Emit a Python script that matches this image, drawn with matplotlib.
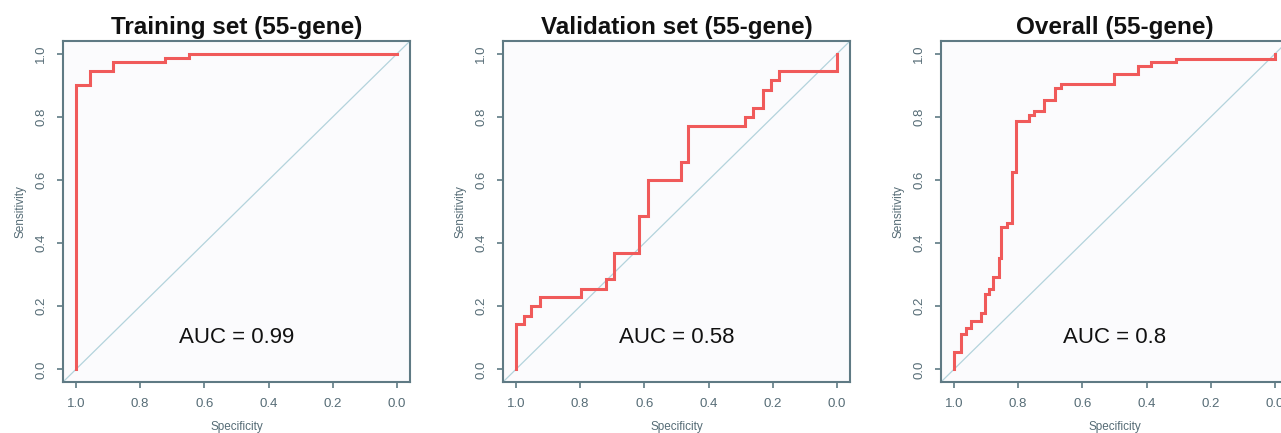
import matplotlib
matplotlib.use("Agg")
import matplotlib.pyplot as plt

plt.rcParams['font.family'] = ['Liberation Sans', 'DejaVu Sans']

titles = ["Training set (55-gene)", "Validation set (55-gene)", "Overall (55-gene)"]
auc_labels = ["AUC = 0.99", "AUC = 0.58", "AUC = 0.8"]

train_spec = [1.0, 1.0, 0.956, 0.885, 0.721, 0.647, 0.0]
train_sens = [0.0, 0.90, 0.945, 0.974, 0.985, 1.0, 1.0]

valid_spec = [1.0, 1.0, 0.976, 0.952, 0.926, 0.796, 0.720, 0.694, 0.616, 0.590,
              0.487, 0.464, 0.287, 0.261, 0.232, 0.206, 0.181, 0.0, 0.0]
valid_sens = [0.0, 0.143, 0.170, 0.201, 0.228, 0.255, 0.286, 0.370, 0.486, 0.599,
              0.656, 0.770, 0.800, 0.829, 0.885, 0.916, 0.945, 0.945, 1.0]

overall_spec = [1.0, 1.0, 0.977, 0.961, 0.946, 0.914, 0.903, 0.890, 0.877, 0.861,
                0.854, 0.835, 0.819, 0.806, 0.767, 0.752, 0.720, 0.686, 0.668,
                0.502, 0.427, 0.386, 0.308, 0.0, 0.0]
overall_sens = [0.0, 0.056, 0.113, 0.132, 0.153, 0.180, 0.239, 0.255, 0.291, 0.354,
                0.452, 0.465, 0.626, 0.788, 0.806, 0.819, 0.853, 0.891, 0.905,
                0.935, 0.961, 0.972, 0.982, 0.982, 1.0]

ticks = [1.0, 0.8, 0.6, 0.4, 0.2, 0.0]
tick_labels = ["1.0", "0.8", "0.6", "0.4", "0.2", "0.0"]

curves = [(train_spec, train_sens), (valid_spec, valid_sens), (overall_spec, overall_sens)]

W, H = 1281, 433
fig = plt.figure(figsize=(W / 100, H / 100), dpi=100)
fig.patch.set_facecolor('white')

lefts = [63, 503, 941]
box_w, box_h = 347, 341
box_bottom = 382

axis_col = '#5f7a84'
text_col = '#566c76'
red = '#f05a5a'
diag = '#b3d3dc'

for i in range(3):
    ax = fig.add_axes([lefts[i] / W, (H - box_bottom) / H, box_w / W, box_h / H])
    ax.set_facecolor('#fbfbfd')
    ax.set_xlim(1.04, -0.04)
    ax.set_ylim(-0.04, 1.04)
    ax.axline((1.0, 0.0), (0.0, 1.0), color=diag, lw=0.9, zorder=1)
    sp, se = curves[i]
    ax.plot(sp, se, drawstyle='steps-post', color=red, lw=2.2, zorder=3,
            solid_joinstyle='miter')
    ax.set_xticks(ticks)
    ax.set_xticklabels(tick_labels)
    ax.set_yticks(ticks[::-1])
    ax.set_yticklabels(tick_labels[::-1], rotation=90, va='center')
    ax.tick_params(axis='both', direction='out', length=4.5, width=1.2,
                   color=axis_col, labelcolor=text_col, labelsize=9.5)
    ax.tick_params(axis='x', pad=7)
    ax.tick_params(axis='y', pad=7)
    for s in ax.spines.values():
        s.set_color(axis_col)
        s.set_linewidth(1.5)
    ax.set_xlabel("Specificity", fontsize=8.5, color=text_col, labelpad=8)
    ax.set_ylabel("Sensitivity", fontsize=8.5, color=text_col, labelpad=6)
    ax.set_title(titles[i], fontsize=17.5, fontweight='bold', color='#111111', pad=5)
    ax.text(0.5, 0.1, auc_labels[i], fontsize=16, color='#111111',
            ha='center', va='center', zorder=4)

fig.savefig("out.png", dpi=100)
